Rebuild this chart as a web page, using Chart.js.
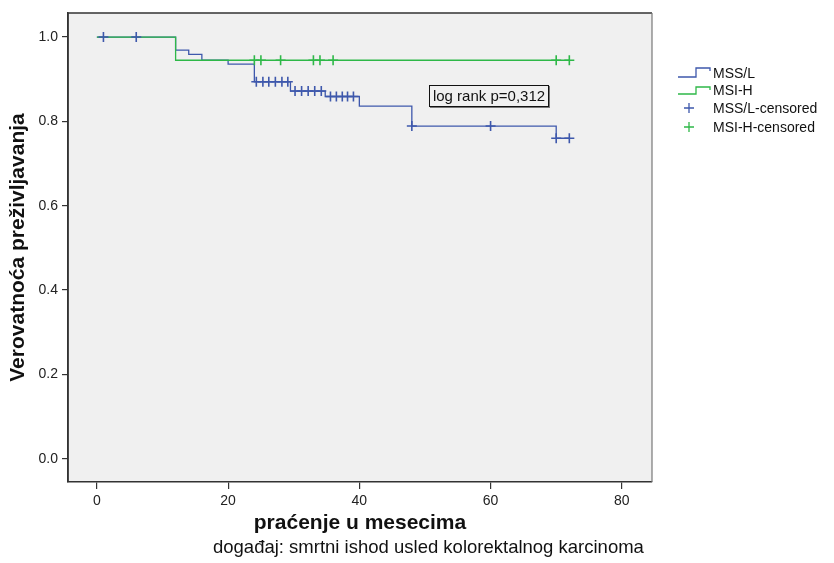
<!DOCTYPE html>
<html><head><meta charset="utf-8">
<script src="https://cdn.jsdelivr.net/npm/chart.js@4/dist/chart.umd.min.js"></script>
<style>
html,body{margin:0;padding:0;background:#fff;}
#wrap{position:relative;width:834px;height:563px;font-family:"Liberation Sans",Arial,sans-serif;}
#c{position:absolute;left:0;top:0;}
.row{position:absolute;left:676px;height:16px;font-size:14px;line-height:16px;color:#111;white-space:nowrap;}
.row svg{position:absolute;left:0;top:0;}
.row span{position:absolute;left:37px;top:0;}
#logrank{position:absolute;left:429px;top:85px;width:118px;height:20px;border:1px solid #111;box-shadow:1px 1px 0 #777;background:#f0f0f0;font-size:15px;line-height:20px;text-align:center;color:#111;white-space:nowrap;}
#note{position:absolute;left:213px;top:537px;font-size:18.5px;line-height:20px;color:#111;white-space:nowrap;}
</style></head><body>
<div id="wrap">
<canvas id="c" width="834" height="563"></canvas>
<div class="row" style="top:65px"><svg width="36" height="16"><polyline points="2,12 20,12 20,3 34,3 34,6" fill="none" stroke="#3E58AC" stroke-width="1.3"/></svg><span>MSS/L</span></div>
<div class="row" style="top:82px"><svg width="36" height="16"><polyline points="2,12 20,12 20,5 34,5 34,8" fill="none" stroke="#2EB848" stroke-width="1.3"/></svg><span>MSI-H</span></div>
<div class="row" style="top:100px"><svg width="36" height="16"><path d="M13,3 L13,13 M8,8 L18,8" stroke="#3E58AC" stroke-width="1.3"/></svg><span>MSS/L-censored</span></div>
<div class="row" style="top:119px"><svg width="36" height="16"><path d="M13,3 L13,13 M8,8 L18,8" stroke="#2EB848" stroke-width="1.3"/></svg><span>MSI-H-censored</span></div>
<div id="logrank">log rank p=0,312</div>
<div id="note">događaj: smrtni ishod usled kolorektalnog karcinoma</div>
</div>
<script>
// Kaplan-Meier step data (time in months, survival probability)
const mssTimes = [0, 12, 14, 16, 20, 24, 29.5, 34.8, 40, 48, 70, 72];
const mssSurv  = [1.0, 0.969, 0.959, 0.945, 0.936, 0.894, 0.872, 0.859, 0.836, 0.789, 0.760, 0.760];
const msiTimes = [0, 12, 72];
const msiSurv  = [1.0, 0.945, 0.945];
// censored observations
const mssCensTimes = [1, 6, 24.3, 25.3, 26.2, 27.2, 28.2, 29.1, 30.2, 31.2, 32.2, 33.2, 34.2, 35.6, 36.5, 37.4, 38.2, 39.1, 48, 60, 70, 72];
const mssCensSurv  = [1.0, 1.0, 0.894, 0.894, 0.894, 0.894, 0.894, 0.894, 0.872, 0.872, 0.872, 0.872, 0.872, 0.859, 0.859, 0.859, 0.859, 0.859, 0.789, 0.789, 0.760, 0.760];
const msiCensTimes = [24, 25, 28, 33, 34, 36, 70, 72];
const msiCensSurv  = [0.945, 0.945, 0.945, 0.945, 0.945, 0.945, 0.945, 0.945];
// ticks
const xTicks = [0, 20, 40, 60, 80];
const yTicks = [0.0, 0.2, 0.4, 0.6, 0.8, 1.0];
const seriesNames = ['MSS/L', 'MSI-H', 'MSS/L-censored', 'MSI-H-censored'];

const BLUE = '#3E58AC', GREEN = '#2EB848';
const pts = (xs, ys) => xs.map((x, i) => ({x: x, y: ys[i]}));

const framePlugin = {
  id: 'frame',
  beforeDraw(chart) {
    const {ctx, chartArea: a} = chart;
    ctx.save(); ctx.fillStyle = '#f0f0f0';
    ctx.fillRect(a.left, a.top, a.right - a.left, a.bottom - a.top);
    ctx.restore();
  },
  afterDraw(chart) {
    const {ctx, chartArea: a} = chart;
    ctx.save(); ctx.strokeStyle = '#333'; ctx.lineWidth = 1.5;
    ctx.beginPath();
    ctx.moveTo(a.left, a.bottom); ctx.lineTo(a.left, a.top); ctx.lineTo(a.right, a.top);
    ctx.stroke();
    ctx.strokeStyle = '#777'; ctx.lineWidth = 1.2;
    ctx.beginPath(); ctx.moveTo(a.right, a.top); ctx.lineTo(a.right, a.bottom); ctx.stroke();
    ctx.restore();
  }
};

new Chart(document.getElementById('c'), {
  type: 'scatter',
  data: {
    datasets: [
      {label: seriesNames[2], data: pts(mssCensTimes, mssCensSurv), showLine: false, pointStyle: 'cross', pointRadius: 5, borderColor: BLUE, borderWidth: 1.6, order: 0},
      {label: seriesNames[3], data: pts(msiCensTimes, msiCensSurv), showLine: false, pointStyle: 'cross', pointRadius: 5, borderColor: GREEN, borderWidth: 1.6, order: 0},
      {label: seriesNames[1], data: pts(msiTimes, msiSurv), showLine: true, stepped: 'before', pointRadius: 0, borderColor: GREEN, borderWidth: 1.3, order: 1},
      {label: seriesNames[0], data: pts(mssTimes, mssSurv), showLine: true, stepped: 'before', pointRadius: 0, borderColor: BLUE, borderWidth: 1.3, order: 2}
    ]
  },
  options: {
    responsive: false, animation: false,
    layout: {padding: {left: 0, right: 182, top: 13, bottom: 0}},
    plugins: {legend: {display: false}, tooltip: {enabled: false}},
    scales: {
      x: {
        type: 'linear', min: -4.4, max: 84.6,
        afterBuildTicks: s => { s.ticks = xTicks.map(v => ({value: v})); },
        afterFit: s => { s.height = 81; },
        ticks: {color: '#222', font: {family: 'Liberation Sans', size: 14}, padding: 4, maxRotation: 0},
        grid: {drawOnChartArea: false, drawTicks: true, tickLength: 7, color: '#333', lineWidth: 1.2},
        border: {display: true, color: '#333', width: 1.5},
        title: {display: true, text: 'praćenje u mesecima', color: '#111', font: {family: 'Liberation Sans', size: 21, weight: 'bold'}, padding: {top: 0, bottom: 27}}
      },
      y: {
        type: 'linear', min: -0.055, max: 1.057,
        afterBuildTicks: s => { s.ticks = yTicks.map(v => ({value: v})); },
        afterFit: s => { s.width = 68; },
        ticks: {color: '#222', font: {family: 'Liberation Sans', size: 14}, padding: 4, callback: v => v.toFixed(1)},
        grid: {drawOnChartArea: false, drawTicks: true, tickLength: 6, color: '#333', lineWidth: 1.2},
        border: {display: true, color: '#333', width: 1.5},
        title: {display: true, text: 'Verovatnoća preživljavanja', color: '#111', font: {family: 'Liberation Sans', size: 21, weight: 'bold'}, padding: {top: 6, bottom: 0}}
      }
    }
  },
  plugins: [framePlugin]
});
</script>
</body></html>
